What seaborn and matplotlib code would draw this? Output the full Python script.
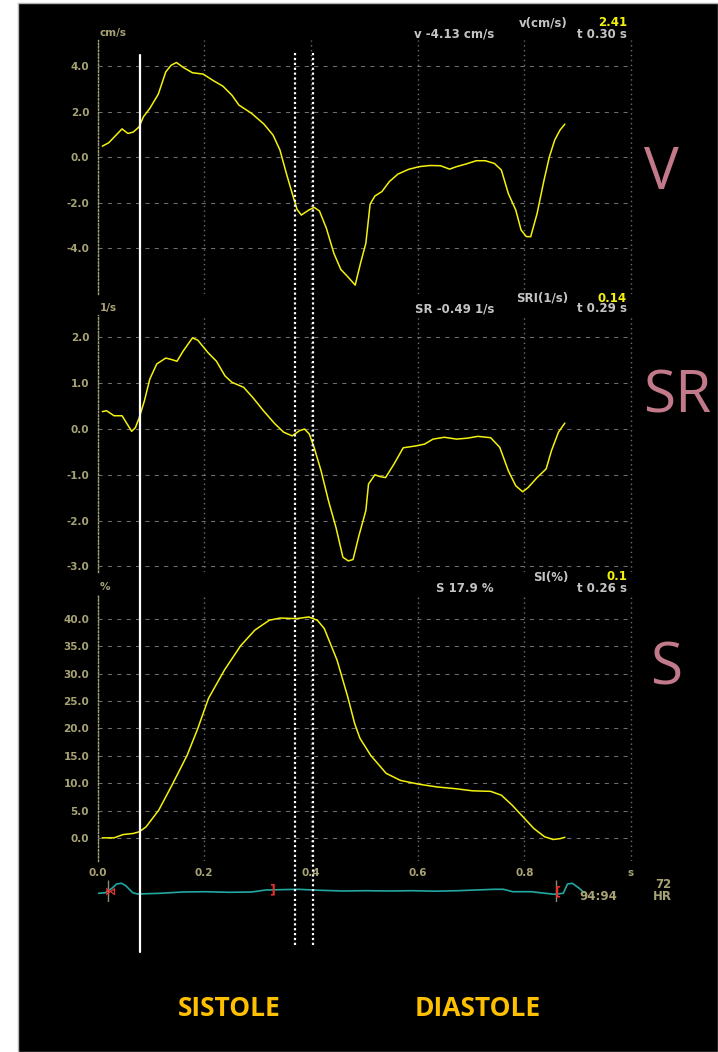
import matplotlib
matplotlib.use("Agg")
import matplotlib.pyplot as plt
import matplotlib.transforms as mtransforms
from matplotlib.lines import Line2D
from matplotlib.patches import Rectangle
from matplotlib.ticker import MultipleLocator
import pandas as pd
import seaborn as sns

# --- traces (time in s) ---
v_time = [0.009, 0.021, 0.046, 0.057, 0.067, 0.078, 0.086, 0.098, 0.114, 0.128, 0.138, 0.148,
          0.161, 0.178, 0.198, 0.218, 0.235, 0.252, 0.265, 0.289, 0.312, 0.329, 0.342, 0.354,
          0.365, 0.374, 0.382, 0.396, 0.406, 0.416, 0.429, 0.443, 0.456, 0.469, 0.483, 0.493,
          0.503, 0.511, 0.520, 0.533, 0.547, 0.563, 0.583, 0.603, 0.623, 0.643, 0.660, 0.673,
          0.690, 0.710, 0.727, 0.744, 0.757, 0.770, 0.784, 0.794, 0.804, 0.812, 0.824, 0.837,
          0.847, 0.857, 0.867, 0.876]
v_vals = [0.48, 0.63, 1.24, 1.04, 1.10, 1.33, 1.77, 2.14, 2.77, 3.75, 4.04, 4.16,
          3.94, 3.71, 3.65, 3.35, 3.12, 2.72, 2.29, 1.92, 1.45, 0.97, 0.31, -0.72,
          -1.60, -2.30, -2.55, -2.33, -2.21, -2.37, -3.13, -4.23, -4.94, -5.26, -5.63, -4.67,
          -3.79, -2.07, -1.71, -1.52, -1.08, -0.75, -0.54, -0.42, -0.37, -0.38, -0.53, -0.42,
          -0.31, -0.16, -0.16, -0.28, -0.57, -1.60, -2.33, -3.21, -3.50, -3.50, -2.48, -1.01,
          0.01, 0.75, 1.19, 1.45]

sr_time = [0.009, 0.017, 0.031, 0.046, 0.054, 0.064, 0.071, 0.078, 0.088, 0.098, 0.111, 0.128,
           0.138, 0.149, 0.161, 0.178, 0.188, 0.207, 0.223, 0.239, 0.252, 0.274, 0.291, 0.311,
           0.332, 0.349, 0.365, 0.378, 0.388, 0.397, 0.406, 0.419, 0.433, 0.447, 0.460, 0.470,
           0.479, 0.490, 0.503, 0.508, 0.520, 0.530, 0.540, 0.556, 0.573, 0.596, 0.613, 0.629,
           0.650, 0.673, 0.693, 0.713, 0.737, 0.754, 0.770, 0.784, 0.797, 0.807, 0.824, 0.841,
           0.851, 0.864, 0.876]
sr_vals = [0.38, 0.40, 0.29, 0.29, 0.14, -0.05, 0.03, 0.24, 0.62, 1.09, 1.42, 1.55,
           1.52, 1.48, 1.71, 1.99, 1.94, 1.67, 1.48, 1.16, 1.02, 0.91, 0.69, 0.40,
           0.12, -0.07, -0.15, -0.04, 0.00, -0.11, -0.40, -0.91, -1.57, -2.15, -2.80, -2.88,
           -2.85, -2.33, -1.78, -1.20, -1.00, -1.04, -1.06, -0.76, -0.41, -0.37, -0.33, -0.22,
           -0.18, -0.22, -0.20, -0.16, -0.19, -0.40, -0.91, -1.24, -1.37, -1.28, -1.06, -0.87,
           -0.47, -0.07, 0.13]

s_time = [0.009, 0.031, 0.048, 0.067, 0.078, 0.091, 0.115, 0.141, 0.168, 0.188, 0.208, 0.238,
          0.268, 0.295, 0.322, 0.342, 0.373, 0.396, 0.412, 0.425, 0.449, 0.469, 0.482, 0.492,
          0.512, 0.541, 0.568, 0.603, 0.637, 0.670, 0.703, 0.737, 0.757, 0.777, 0.797, 0.818,
          0.838, 0.854, 0.867, 0.876]
s_vals = [0.0, 0.0, 0.6, 0.8, 1.1, 2.0, 5.1, 9.9, 15.1, 20.0, 25.5, 30.7,
          35.1, 38.0, 39.8, 40.2, 40.1, 40.4, 39.8, 38.3, 32.5, 25.8, 20.9, 18.2,
          15.1, 11.8, 10.5, 9.8, 9.3, 9.0, 8.6, 8.5, 7.8, 6.0, 3.9, 1.7,
          0.2, -0.3, -0.15, 0.1]

ecg_time = [0.002, 0.015, 0.027, 0.036, 0.045, 0.053, 0.066, 0.075, 0.117, 0.160, 0.203, 0.246,
            0.289, 0.315, 0.375, 0.418, 0.460, 0.504, 0.547, 0.590, 0.632, 0.675, 0.744, 0.761,
            0.778, 0.813, 0.856, 0.873, 0.881, 0.890, 0.903, 0.912]
ecg_vals = [0.07, 0.13, 0.57, 1.00, 1.07, 0.83, 0.13, 0.00, 0.07, 0.20, 0.23, 0.17,
            0.20, 0.40, 0.47, 0.37, 0.30, 0.33, 0.30, 0.33, 0.28, 0.33, 0.47, 0.47,
            0.23, 0.23, -0.03, 0.07, 1.00, 1.07, 0.57, 0.13]

panel_names = ["V", "SR", "S"]
unit_labels = ["cm/s", "1/s", "%"]
cursor_names = ["v(cm/s)", "SRI(1/s)", "SI(%)"]
cursor_values = ["2.41", "0.14", "0.1"]
readouts = ["v -4.13 cm/s", "SR -0.49 1/s", "S 17.9 %"]
readout_times = ["t 0.30 s", "t 0.29 s", "t 0.26 s"]
v_ticks = [4.0, 2.0, 0.0, -2.0, -4.0]
sr_ticks = [2.0, 1.0, 0.0, -1.0, -2.0, -3.0]
s_ticks = [40.0, 35.0, 30.0, 25.0, 20.0, 15.0, 10.0, 5.0, 0.0]
x_ticks = [0.0, 0.2, 0.4, 0.6, 0.8, 1.0]
x_tick_labels = ["0.0", "0.2", "0.4", "0.6", "0.8", "s"]
solid_cursor_t = 0.079
dotted_cursor_t = [0.370, 0.404]
ecg_gate_t = [0.020, 0.859]
hr_value = "72"
hr_ratio = "94:94"
phase_labels = ["SISTOLE", "DIASTOLE"]

W, H = 718, 1052
KHAKI = "#a8a374"
GRID = "#6e6e6e"
YELLOW = "#f4f20c"
GRAYTXT = "#c4c4c4"
PINK = "#c27a8b"
ORANGE = "#ffc000"

sns.set_theme(style="dark")
plt.rcParams["font.family"] = ["DejaVu Sans"]

fig = plt.figure(figsize=(W / 100, H / 100), dpi=100)
fig.patch.set_facecolor("white")
fig.add_artist(Rectangle((18 / W, 0), (W - 18) / W, (H - 3) / H, transform=fig.transFigure,
                         facecolor="black", edgecolor="#b4b4b4", lw=1.0, zorder=-5))


def fx(px):
    return px / W


def fy(py):
    return 1 - py / H


def px_axes(left, top, right, bottom):
    return fig.add_axes([left / W, 1 - bottom / H, (right - left) / W, (bottom - top) / H])


XMAX = 1.003
RIGHT = 97.5 + 533.5 * XMAX

panels = [
    (v_time, v_vals, v_ticks, (-6.0, 5.15), (40, 293.5), 1.0),
    (sr_time, sr_vals, sr_ticks, (-3.12, 2.49), (315, 571.9), 0.2),
    (s_time, s_vals, s_ticks, (-4.2, 44.6), (594, 860.8), 1.0),
]
label_centers = [(661, 174), (677, 397), (666, 669)]

axes = []
for i, (tt, vv, ticks, ylim, (top, bot), minor) in enumerate(panels):
    ax = px_axes(97.5, top, RIGHT, bot)
    ax.set_facecolor("black")
    df = pd.DataFrame({"t": tt, "val": vv})
    sns.lineplot(data=df, x="t", y="val", ax=ax, color=YELLOW, lw=1.1, zorder=3)
    ax.set_xlabel("")
    ax.set_ylabel("")
    ax.set_xlim(0, XMAX)
    ax.set_ylim(*ylim)
    for s in ["top", "right", "bottom"]:
        ax.spines[s].set_visible(False)
    ax.spines["left"].set_color(KHAKI)
    ax.spines["left"].set_linestyle((0, (1, 1.5)))
    ax.spines["left"].set_linewidth(1.0)

    ax.set_yticks(ticks)
    ax.set_yticklabels([f"{t:.1f}" for t in ticks], fontsize=7.5, fontweight="bold", color=KHAKI)
    ax.yaxis.set_minor_locator(MultipleLocator(minor))
    ax.tick_params(axis="y", which="major", colors=KHAKI, length=3.5, width=1, pad=2.5)
    ax.tick_params(axis="y", which="minor", colors=KHAKI, length=1.8, width=0.8)

    ax.set_xticks(x_ticks)
    ax.xaxis.set_minor_locator(MultipleLocator(0.1))
    ax.grid(axis="y", color=GRID, ls=(0, (4, 5)), lw=0.75)
    ax.grid(axis="x", color=GRID, ls=(0, (1, 2.5)), lw=1.0)
    if i < 2:
        ax.tick_params(axis="x", which="both", length=0, labelbottom=False)
    else:
        ax.set_xticklabels(x_tick_labels, fontsize=7.5, fontweight="bold", color=KHAKI)
        ax.tick_params(axis="x", which="major", length=0, pad=5)
        ax.tick_params(axis="x", which="minor", colors=KHAKI, length=1.5, width=1.5)

    # unit label and cursor readouts
    fig.text(fx(100), fy(top - 7), unit_labels[i], ha="left", va="center",
             color=KHAKI, fontsize=7.5, fontweight="bold")
    fig.text(fx(568), fy(top - 17), cursor_names[i], ha="right", va="center",
             color=GRAYTXT, fontsize=8.5, fontweight="bold")
    fig.text(fx(627), fy(top - 17), cursor_values[i], ha="right", va="center",
             color=YELLOW, fontsize=8.5, fontweight="bold")
    fig.text(fx(494), fy(top - 6), readouts[i], ha="right", va="center",
             color=GRAYTXT, fontsize=8.5, fontweight="bold")
    fig.text(fx(627), fy(top - 6), readout_times[i], ha="right", va="center",
             color=GRAYTXT, fontsize=8.5, fontweight="bold")

    cx, cy = label_centers[i]
    fig.text(fx(cx), fy(cy), panel_names[i], ha="center", va="center", color=PINK,
             fontsize=42, family=["Open Sans", "DejaVu Sans"])
    axes.append(ax)

# ECG strip
ax_ecg = px_axes(97.5, 878, RIGHT, 902)
ax_ecg.set_facecolor("black")
sns.lineplot(x=ecg_time, y=ecg_vals, ax=ax_ecg, color="#22a8a2", lw=1.2)
ax_ecg.set_xlim(0, XMAX)
ax_ecg.set_ylim(-0.8, 1.6)
ax_ecg.axis("off")
ax_ecg.vlines(ecg_gate_t, -0.75, 1.45, color="#8c8a70", lw=1.0, zorder=4)
ax_ecg.text(ecg_gate_t[0] + 0.004, 0.3, "\u22c8", color="#e83030", fontsize=8,
            fontweight="bold", ha="center", va="center", zorder=5)
ax_ecg.text(0.327, 0.4, "]", color="#e83030", fontsize=9, fontweight="bold",
            ha="center", va="center", zorder=5)
ax_ecg.text(ecg_gate_t[1] + 0.004, 0.2, "[", color="#e83030", fontsize=9,
            fontweight="bold", ha="center", va="center", zorder=5)
fig.text(fx(579), fy(896), hr_ratio, ha="left", va="center", color=KHAKI,
         fontsize=8.5, fontweight="bold")
fig.text(fx(672), fy(884), hr_value, ha="right", va="center", color=KHAKI,
         fontsize=8.5, fontweight="bold")
fig.text(fx(672), fy(897), "HR", ha="right", va="center", color=KHAKI,
         fontsize=8.5, fontweight="bold")

# cursor lines across all panels
trans = mtransforms.blended_transform_factory(axes[2].transData, fig.transFigure)
fig.add_artist(Line2D([solid_cursor_t] * 2, [fy(55), fy(952)], transform=trans,
                      color="white", lw=1.6, zorder=10))
for t in dotted_cursor_t:
    fig.add_artist(Line2D([t, t], [fy(53), fy(947)], transform=trans, color="white",
                          lw=1.6, ls=(0, (1, 1.2)), zorder=10))

phase_font = ["Liberation Sans Narrow", "Open Sans", "DejaVu Sans"]
fig.text(fx(229.5), fy(1009), phase_labels[0], ha="center", va="center", color=ORANGE,
         fontsize=19, fontweight="bold", family=phase_font)
fig.text(fx(478), fy(1009), phase_labels[1], ha="center", va="center", color=ORANGE,
         fontsize=19, fontweight="bold", family=phase_font)

fig.savefig("out.png", dpi=100, facecolor=fig.get_facecolor())
